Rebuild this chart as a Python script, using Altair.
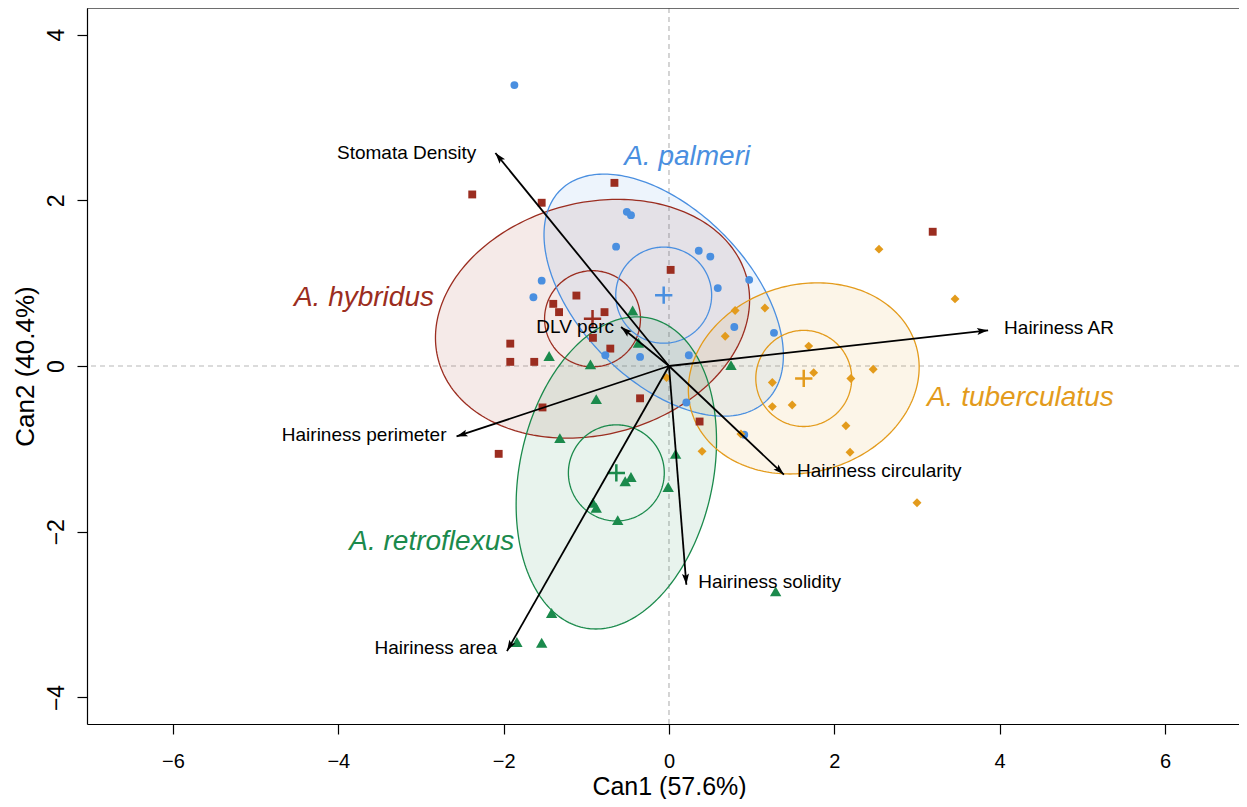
import altair as alt
import numpy as np
import pandas as pd

# ---------------- data ----------------
groups = ["A. hybridus", "A. palmeri", "A. retroflexus", "A. tuberculatus"]
colors = ["#9B2D20", "#4A8FE0", "#1B8A4C", "#E39B1C"]
shapes = ["square", "circle", "triangle-up", "diamond"]

hyb_x = [-2.38, -1.54, -0.66, 0.02, -1.12, -1.40, -1.33, -0.78, -0.92, -0.71, -1.92, -1.92, -1.63, -0.35, -1.53, 0.37, -2.06, 3.19]
hyb_y = [2.07, 1.97, 2.21, 1.16, 0.85, 0.75, 0.65, 0.65, 0.34, 0.21, 0.27, 0.05, 0.05, -0.39, -0.50, -0.67, -1.06, 1.62]

pal_x = [-1.87, -0.51, -0.46, -0.64, 0.36, 0.50, 0.97, 0.59, -1.54, -1.64, -0.77, -0.35, 0.24, 0.79, 1.27, 0.21, 0.91]
pal_y = [3.39, 1.86, 1.82, 1.44, 1.39, 1.32, 1.04, 0.94, 1.03, 0.83, 0.13, 0.11, 0.13, 0.47, 0.40, -0.44, -0.83]

ret_x = [-0.44, -0.37, -1.45, -0.95, 0.75, -0.88, -1.32, 0.08, -0.46, -0.53, -0.01, -0.92, -0.88, -0.62, 1.29, -1.42, -1.84, -1.54]
ret_y = [0.67, 0.28, 0.12, 0.02, 0.01, -0.40, -0.87, -1.06, -1.34, -1.39, -1.46, -1.65, -1.71, -1.86, -2.72, -2.98, -3.33, -3.34]

tub_x = [0.80, 1.16, 0.68, 1.69, 1.75, 1.25, -0.03, 1.25, 1.49, 2.14, 0.87, 0.40, 2.54, 3.46, 2.47, 2.20, 2.19, 3.00]
tub_y = [0.67, 0.70, 0.36, 0.24, -0.08, -0.20, -0.14, -0.49, -0.47, -0.72, -0.82, -1.03, 1.41, 0.81, -0.04, -0.15, -1.04, -1.65]

# group centroids (crosses, centres of circles and ellipses)
cen_x = [-0.925, -0.064, -0.637, 1.63]
cen_y = [0.57, 0.855, -1.29, -0.15]

# outer data ellipses: semi-axes and tilt (degrees)
ell_a = [1.93, 1.78, 1.91, 1.415]
ell_b = [1.40, 1.03, 1.17, 1.13]
ell_angle = [14.8, -45.5, 77.9, 15.7]
# inner (centroid) circles radius
inner_r = [0.58, 0.58, 0.58, 0.58]

# structure vectors
vec_names = ["Stomata Density", "DLV perc", "Hairiness AR", "Hairiness circularity",
             "Hairiness solidity", "Hairiness perimeter", "Hairiness area"]
vec_x = [-2.10, -0.58, 3.86, 1.39, 0.21, -2.57, -1.96]
vec_y = [2.57, 0.47, 0.43, -1.31, -2.64, -0.85, -3.44]

# group name labels (data coordinates)
glab_x = [-3.69, 0.22, -2.87, 4.25]
glab_y = [0.72, 2.42, -2.22, -0.48]

x_ticks = [-6, -4, -2, 0, 2, 4, 6]
y_ticks = [-4, -2, 0, 2, 4]
x_title = "Can1 (57.6%)"
y_title = "Can2 (40.4%)"

# ---------------- styles ----------------
vec_label_style = {
    "Stomata Density": ("right", -19, 0),
    "DLV perc": ("right", -7, 0),
    "Hairiness AR": ("left", 16, -2),
    "Hairiness circularity": ("left", 13, -4),
    "Hairiness solidity": ("left", 12, -3),
    "Hairiness perimeter": ("right", -10, -1),
    "Hairiness area": ("right", -10, -3),
}
point_sizes = [62, 62, 130, 80]
FONT = "Liberation Sans"
W, H = 1152, 716

# ---------------- build tables ----------------
pts = pd.concat([
    pd.DataFrame({"group": g, "x": xs, "y": ys})
    for g, xs, ys in zip(groups, [hyb_x, pal_x, ret_x, tub_x], [hyb_y, pal_y, ret_y, tub_y])
], ignore_index=True)

cen = pd.DataFrame({"group": groups, "x": cen_x, "y": cen_y})


def outline(cx, cy, a, b, ang, n=240):
    t = np.linspace(0, 2 * np.pi, n + 1)
    p = np.radians(ang)
    x = cx + a * np.cos(t) * np.cos(p) - b * np.sin(t) * np.sin(p)
    y = cy + a * np.cos(t) * np.sin(p) + b * np.sin(t) * np.cos(p)
    return x, y


def band(cx, cy, a, b, ang, n=240):
    p = np.radians(ang)
    A = np.cos(p) ** 2 / a ** 2 + np.sin(p) ** 2 / b ** 2
    B = np.cos(p) * np.sin(p) * (1 / a ** 2 - 1 / b ** 2)
    C = np.sin(p) ** 2 / a ** 2 + np.cos(p) ** 2 / b ** 2
    xmax = np.sqrt(C / (A * C - B ** 2))
    X = xmax * np.cos(np.linspace(np.pi, 0, n))
    disc = np.clip(B ** 2 * X ** 2 - C * (A * X ** 2 - 1), 0, None)
    y1 = (-B * X - np.sqrt(disc)) / C
    y2 = (-B * X + np.sqrt(disc)) / C
    return cx + X, cy + y1, cy + y2


lines, bands = [], []
for g, cx, cy, a, b, ang, r in zip(groups, cen_x, cen_y, ell_a, ell_b, ell_angle, inner_r):
    ox, oy = outline(cx, cy, a, b, ang)
    lines.append(pd.DataFrame({"group": g, "key": g + "_outer", "i": np.arange(len(ox)), "x": ox, "y": oy}))
    ix, iy = outline(cx, cy, r, r, 0)
    lines.append(pd.DataFrame({"group": g, "key": g + "_inner", "i": np.arange(len(ix)), "x": ix, "y": iy}))
    bx, blo, bhi = band(cx, cy, a, b, ang)
    bands.append(pd.DataFrame({"group": g, "x": bx, "ylo": blo, "yhi": bhi}))
lines = pd.concat(lines, ignore_index=True)
bands = pd.concat(bands, ignore_index=True)

vec = pd.DataFrame({"name": vec_names, "x0": 0.0, "y0": 0.0, "x": vec_x, "y": vec_y})
vec["angle"] = np.degrees(np.arctan2(vec["x"], vec["y"])) % 360

glab = pd.DataFrame({"group": groups, "x": glab_x, "y": glab_y})
zero = pd.DataFrame({"z": [0.0]})

# ---------------- encodings ----------------
xs = alt.Scale(domain=[-7.04, 6.895], nice=False, zero=False)
ys = alt.Scale(domain=[-4.32, 4.32], nice=False, zero=False)
xax = alt.Axis(values=x_ticks, title=x_title, grid=False, tickSize=10, tickWidth=1.2,
               tickColor="black", domainColor="black", domainWidth=1.2,
               labelFont=FONT, labelFontSize=20, labelColor="black", labelPadding=17,
               labelFlush=False, titleFont=FONT, titleFontSize=25, titleFontWeight="normal",
               titleColor="black", titleX=582, titleY=62, titleBaseline="middle", titleAlign="center")
yax = alt.Axis(values=y_ticks, title=y_title, grid=False, tickSize=10, tickWidth=1.2,
               tickColor="black", domainColor="black", domainWidth=1.2,
               labelFont=FONT, labelFontSize=23, labelColor="black", labelPadding=9,
               labelAngle=270, labelAlign="center", labelBaseline="bottom", labelFlush=False,
               titleFont=FONT, titleFontSize=26, titleFontWeight="normal", titleColor="black",
               titleX=-62, titleY=358, titleAngle=270, titleBaseline="middle", titleAlign="center")


def X(f):
    return alt.X(f, type="quantitative", scale=xs, axis=xax)


def Y(f):
    return alt.Y(f, type="quantitative", scale=ys, axis=yax)


col = alt.Color("group:N", scale=alt.Scale(domain=groups, range=colors), legend=None)

frame_top = alt.Chart(zero).mark_rule(color="black", strokeWidth=1.2).encode(
    x=alt.value(0), x2=alt.value(W), y=alt.value(0))

zx = alt.Chart(zero).mark_rule(color="#b8b8b8", strokeDash=[5, 4], strokeWidth=1.2).encode(x=X("z"))
zy = alt.Chart(zero).mark_rule(color="#b8b8b8", strokeDash=[5, 4], strokeWidth=1.2).encode(y=Y("z"))

fills = alt.Chart(bands).mark_area(fillOpacity=0.1, strokeWidth=0).encode(
    x=X("x"), y=Y("ylo"), y2="yhi", color=col, detail="group:N")

outl = alt.Chart(lines).mark_line(strokeWidth=1.3).encode(
    x=X("x"), y=Y("y"), color=col, detail="key:N", order="i:Q")

point_layers = []
for g, shp, sz in zip(groups, shapes, point_sizes):
    point_layers.append(
        alt.Chart(pts).transform_filter(alt.datum.group == g).mark_point(
            filled=True, opacity=1, strokeWidth=0, shape=shp, size=sz
        ).encode(x=X("x"), y=Y("y"), color=col))

crosses = alt.Chart(cen).mark_point(shape="M-1,0L1,0M0,-1L0,1", filled=False, size=300,
                                    strokeWidth=2.5, opacity=1).encode(
    x=X("x"), y=Y("y"), color=col)

arrows = alt.Chart(vec).mark_rule(color="black", strokeWidth=1.8).encode(
    x=X("x0"), y=Y("y0"), x2="x", y2="y")

heads = alt.Chart(vec).mark_point(shape="M0,0L-0.32,1L0,0.8L0.32,1Z", filled=True, size=484,
                                  color="black", opacity=1).encode(
    x=X("x"), y=Y("y"), angle=alt.Angle("angle:Q", scale=None))

vlabels = []
for name, (al, dx, dy) in vec_label_style.items():
    vlabels.append(
        alt.Chart(vec).transform_filter(alt.datum.name == name).mark_text(
            align=al, baseline="middle", dx=dx, dy=dy, font=FONT, fontSize=19, color="black"
        ).encode(x=X("x"), y=Y("y"), text="name:N"))

glabels = alt.Chart(glab).mark_text(font=FONT, fontSize=28, fontStyle="italic",
                                    baseline="alphabetic", align="center").encode(
    x=X("x"), y=Y("y"), text="group:N", color=col)

chart = alt.layer(
    zx, zy, fills, outl, *point_layers, crosses, arrows, heads, *vlabels, glabels, frame_top
).properties(
    width=W, height=H,
    autosize=alt.AutoSizeParams(type="none"),
    padding={"left": 79, "top": 0, "right": 0, "bottom": 75},
).configure_view(stroke=None).configure(background="white")

chart.save("out.html", embed_options={"renderer": "svg", "actions": False})
